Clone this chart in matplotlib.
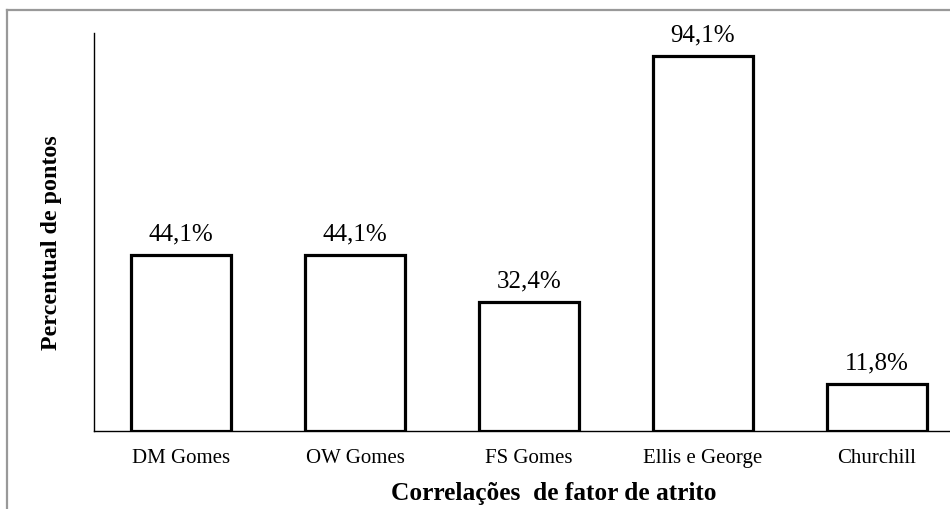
import matplotlib.pyplot as plt
from matplotlib.lines import Line2D

# data
categorias = ['DM Gomes', 'OW Gomes', 'FS Gomes', 'Ellis e George', 'Churchill']
percentuais = [44.1, 44.1, 32.4, 94.1, 11.8]
rotulos = ['44,1%', '44,1%', '32,4%', '94,1%', '11,8%']

plt.rcParams['font.family'] = ['Liberation Serif', 'DejaVu Serif']

W, H = 950, 510
fig = plt.figure(figsize=(9.5, 5.1), dpi=100)
# axes runs past the right edge of the picture, like the cropped original
ax = fig.add_axes([94 / W, 78 / H, 870 / W, 398 / H])

x = range(len(categorias))
bars = ax.bar(x, percentuais, width=0.575, color='white',
              edgecolor='black', linewidth=2.3, zorder=3)

for b, txt in zip(bars, rotulos):
    ax.annotate(txt, (b.get_x() + b.get_width() / 2, b.get_height()),
                xytext=(0, 11.5), textcoords='offset points',
                ha='center', va='baseline', fontsize=18)

ax.set_xlim(-0.5, 4.5)
ax.set_ylim(0, 100)
ax.set_xticks(list(x))
ax.set_xticklabels(categorias, fontsize=15)
ax.set_yticks([])
ax.tick_params(axis='x', length=0, pad=12)

for s in ['top', 'right']:
    ax.spines[s].set_visible(False)
for s in ['left', 'bottom']:
    ax.spines[s].set_linewidth(1.0)

# axis titles placed in pixels of the figure
fig.text(52 / W, 1 - 243 / H, 'Percentual de pontos', rotation=90,
         ha='center', va='center', fontsize=17.3, fontweight='bold')
fig.text(554 / W, 1 - 494 / H, 'Correlações  de fator de atrito',
         ha='center', va='center', fontsize=18.3, fontweight='bold')

# gray frame around the chart area (cropped at right and bottom)
fig.add_artist(Line2D([7 / W, 1.0], [1 - 11 / H, 1 - 11 / H],
                      color='#999999', linewidth=1.6, transform=fig.transFigure))
fig.add_artist(Line2D([7 / W, 7 / W], [0.0, 1 - 11 / H],
                      color='#999999', linewidth=1.6, transform=fig.transFigure))

fig.savefig('out.png', dpi=100)
